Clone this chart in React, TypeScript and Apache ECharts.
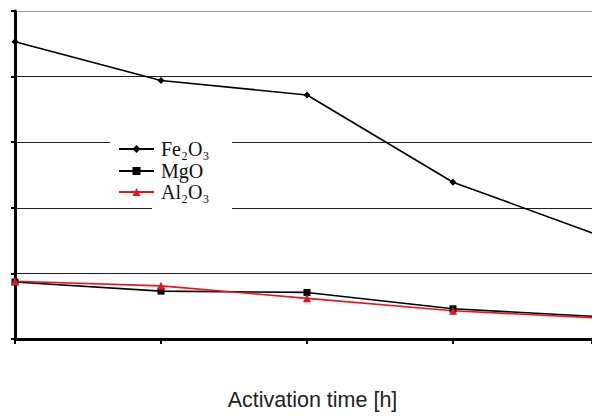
import React, { useEffect, useRef } from "react";
import * as echarts from "echarts";

const hours = [0, 1, 2, 3, 4];
const fe2o3 = [4.53, 3.94, 3.72, 2.39, 1.58];
const mgo = [0.87, 0.73, 0.71, 0.46, 0.34];
const al2o3 = [0.88, 0.81, 0.62, 0.43, 0.32];
const seriesNames = ["Fe2O3", "MgO", "Al2O3"];
const legendLabels: Record<string, string> = {
  Fe2O3: "Fe₂O₃",
  MgO: "MgO",
  Al2O3: "Al₂O₃",
};
const xTitle = "Activation time [h]";

const pairs = (ys: number[]) => ys.map((y, i) => [hours[i], y]);

export default function App() {
  const ref = useRef<HTMLDivElement>(null);
  useEffect(() => {
    if (!ref.current) return;
    const chart = echarts.init(ref.current, undefined, { renderer: "svg" });
    const serif = "Liberation Serif, DejaVu Serif, Times New Roman, serif";
    const legendTops = [139, 161, 182];
    const legends = seriesNames.map((name, i) => ({
      data: [name],
      orient: "vertical",
      left: 118,
      top: legendTops[i],
      padding: 0,
      itemWidth: 35,
      itemHeight: 10,
      itemGap: 0,
      formatter: (n: string) => legendLabels[n],
      textStyle: {
        fontFamily: serif,
        fontSize: 20,
        lineHeight: 20,
        color: "#111",
        padding: [0, 0, 0, 2],
      },
    }));
    chart.setOption({
      animation: false,
      backgroundColor: "#fff",
      grid: { left: 15, right: 0, top: 11, bottom: 76 },
      graphic: [
        { type: "rect", z: 1, shape: { x: 110, y: 137, width: 122, height: 64 }, style: { fill: "#fff" } },
        { type: "rect", z: 1, shape: { x: 152, y: 201, width: 80, height: 12 }, style: { fill: "#fff" } },
      ],
      xAxis: {
        type: "value",
        min: 0,
        max: 3.952,
        interval: 1,
        name: xTitle,
        nameLocation: "middle",
        nameGap: 50,
        nameTextStyle: {
          fontFamily: "Liberation Sans, Arial",
          fontSize: 21.5,
          color: "#222",
          padding: [0, 0, 0, 18],
        },
        axisLine: { show: true, onZero: false, lineStyle: { color: "#000", width: 3 } },
        axisTick: { show: true, length: 5, lineStyle: { color: "#000", width: 2 } },
        axisLabel: { show: false },
        splitLine: { show: false },
      },
      yAxis: {
        type: "value",
        min: 0,
        max: 5,
        interval: 1,
        axisLine: { show: true, lineStyle: { color: "#000", width: 3 } },
        axisTick: { show: true, length: 4, lineStyle: { color: "#000", width: 2 } },
        axisLabel: { show: false },
        splitLine: {
          show: true,
          lineStyle: { color: ["#000", "#222", "#222", "#222", "#222", "#999"], width: 1.2 },
        },
      },
      legend: legends,
      series: [
        {
          name: seriesNames[0],
          type: "line",
          data: pairs(fe2o3),
          symbol: "diamond",
          symbolSize: 7,
          lineStyle: { color: "#000", width: 1.6 },
          itemStyle: { color: "#000" },
        },
        {
          name: seriesNames[1],
          type: "line",
          data: pairs(mgo),
          symbol: "rect",
          symbolSize: 7,
          lineStyle: { color: "#000", width: 1.6 },
          itemStyle: { color: "#000" },
        },
        {
          name: seriesNames[2],
          type: "line",
          data: pairs(al2o3),
          symbol: "triangle",
          symbolSize: 8,
          lineStyle: { color: "#e8141e", width: 1.6 },
          itemStyle: { color: "#e8141e" },
        },
      ],
    });
    return () => chart.dispose();
  }, []);
  return <div ref={ref} style={{ width: 592, height: 416, position: "absolute", left: 0, top: 0 }} />;
}
